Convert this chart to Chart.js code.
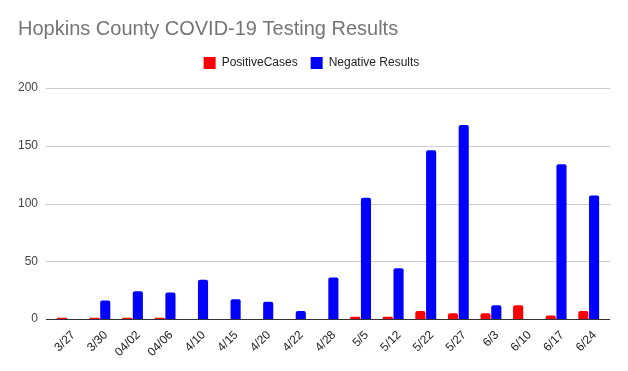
<!DOCTYPE html>
<html lang="en">
<head>
    <meta charset="UTF-8">
    <title>Hopkins County COVID-19 Testing Results</title>
    <script src="https://cdn.jsdelivr.net/npm/chart.js"></script>
    <style>
        html, body { margin: 0; padding: 0; background: #fff; }
        #wrap { width: 628px; height: 371px; }
    </style>
</head>
<body>
    <div id="wrap"><canvas id="testChart" width="628" height="371"></canvas></div>

    <script>
        // values
        const dates = ['3/27', '3/30', '04/02', '04/06', '4/10', '4/15', '4/20', '4/22', '4/28',
                       '5/5', '5/12', '5/22', '5/27', '6/3', '6/10', '6/17', '6/24'];
        const positiveCases = [1, 1, 1, 1, 0, 0, 0, 0, 0, 2, 2, 7, 5, 5, 12, 3, 7];
        const negativeResults = [0, 16, 24, 23, 34, 17, 15, 7, 36, 105, 44, 146, 168, 12, 0, 134, 107];
        const yTicks = [0, 50, 100, 150, 200];

        const fontFamily = "Arial, 'Liberation Sans', sans-serif";

        // gridlines reach a few px past the bar area, like the sheets chart
        const gridPlugin = {
            id: 'wideGrid',
            beforeDatasetsDraw(chart) {
                const { ctx, chartArea, scales } = chart;
                ctx.save();
                ctx.lineWidth = 1;
                yTicks.forEach(v => {
                    const y = Math.round(scales.y.getPixelForValue(v)) + 0.5;
                    ctx.strokeStyle = v === 0 ? '#333' : '#cccccc';
                    ctx.beginPath();
                    ctx.moveTo(chartArea.left - 5, y);
                    ctx.lineTo(chartArea.right + 5, y);
                    ctx.stroke();
                });
                ctx.restore();
            }
        };

        // a bit more room under the legend
        const legendGap = {
            id: 'legendGap',
            beforeInit(chart) {
                const fit = chart.legend.fit;
                chart.legend.fit = function () {
                    fit.call(this);
                    this.height += 9;
                };
            }
        };

        const ctx = document.getElementById('testChart').getContext('2d');
        const testChart = new Chart(ctx, {
            type: 'bar',
            data: {
                labels: dates,
                datasets: [
                    {
                        label: 'PositiveCases',
                        data: positiveCases,
                        backgroundColor: '#ff0000',
                        borderRadius: { topLeft: 2, topRight: 2 },
                        borderSkipped: 'bottom'
                    },
                    {
                        label: 'Negative Results',
                        data: negativeResults,
                        backgroundColor: '#0000ff',
                        borderRadius: { topLeft: 2, topRight: 2 },
                        borderSkipped: 'bottom'
                    }
                ]
            },
            options: {
                responsive: false,
                animation: false,
                layout: { padding: { left: 18, right: 23, top: 0, bottom: 0 } },
                datasets: {
                    bar: { categoryPercentage: 0.66, barPercentage: 0.94 }
                },
                scales: {
                    x: {
                        grid: { display: false, drawTicks: false },
                        border: { display: false },
                        ticks: {
                            maxRotation: 45,
                            minRotation: 45,
                            padding: 9,
                            labelOffset: 6,
                            color: '#222',
                            font: { family: fontFamily, size: 12 }
                        },
                        afterFit: (scale) => { scale.height = 52; }
                    },
                    y: {
                        min: 0,
                        max: 200,
                        afterBuildTicks: (scale) => { scale.ticks = yTicks.map(v => ({ value: v })); },
                        grid: { display: false, drawTicks: false },
                        border: { display: false },
                        ticks: {
                            padding: 13,
                            color: '#444',
                            font: { family: fontFamily, size: 12 }
                        },
                        afterFit: (scale) => { scale.width = 33; }
                    }
                },
                plugins: {
                    title: {
                        display: true,
                        text: 'Hopkins County COVID-19 Testing Results',
                        align: 'start',
                        color: '#757575',
                        font: { family: fontFamily, size: 20, weight: 'normal' },
                        padding: { top: 17, bottom: 3 }
                    },
                    legend: {
                        display: true,
                        labels: {
                            boxWidth: 12,
                            boxHeight: 12,
                            padding: 13,
                            color: '#222',
                            font: { family: fontFamily, size: 12 }
                        }
                    },
                    tooltip: { enabled: false }
                }
            },
            plugins: [gridPlugin, legendGap]
        });
    </script>
</body>
</html>
